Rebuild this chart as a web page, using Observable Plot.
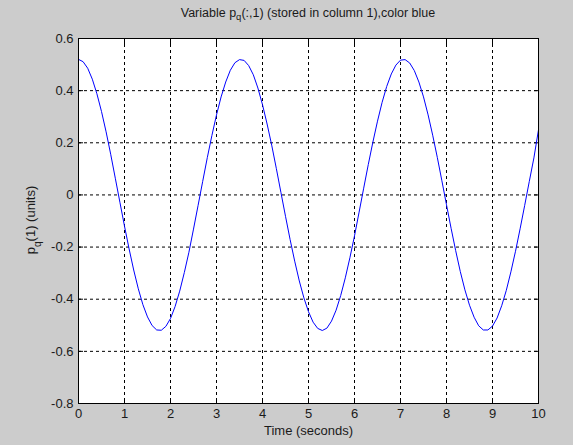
<!DOCTYPE html>
<html><head><meta charset="utf-8">
<script src="https://cdn.jsdelivr.net/npm/d3@7"></script>
<script src="https://cdn.jsdelivr.net/npm/@observablehq/plot@0.6"></script>
<style>
body{margin:0;background:#cccccc;font-family:"Liberation Sans",Arial,sans-serif;}
#wrap{position:relative;width:573px;height:445px;overflow:hidden;}
#title{position:absolute;left:0;width:616px;top:6px;text-align:center;font-size:12.5px;color:#1a1a1a;}
#title sub{font-size:9.5px;vertical-align:-3px;line-height:0;}
#chart{position:absolute;left:0;top:30px;}
</style></head>
<body><div id="wrap"><div id="title">Variable p<sub>q</sub>(:,1) (stored in column 1),color blue</div><div id="chart"></div></div>
<script>
const time = [0,0.1,0.2,0.3,0.4,0.5,0.6,0.7,0.8,0.9,1.0,1.1,1.2,1.3,1.4,1.5,1.6,1.7,1.8,1.9,2.0,2.1,2.2,2.3,2.4,2.5,2.6,2.7,2.8,2.9,3.0,3.1,3.2,3.3,3.4,3.5,3.6,3.7,3.8,3.9,4.0,4.1,4.2,4.3,4.4,4.5,4.6,4.7,4.8,4.9,5.0,5.1,5.2,5.3,5.4,5.5,5.6,5.7,5.8,5.9,6.0,6.1,6.2,6.3,6.4,6.5,6.6,6.7,6.8,6.9,7.0,7.1,7.2,7.3,7.4,7.5,7.6,7.7,7.8,7.9,8.0,8.1,8.2,8.3,8.4,8.5,8.6,8.7,8.8,8.9,9.0,9.1,9.2,9.3,9.4,9.5,9.6,9.7,9.8,9.9,10.0];
const pq1 = [0.52,0.511,0.486,0.444,0.388,0.320,0.242,0.156,0.064,-0.028,-0.120,-0.207,-0.288,-0.360,-0.421,-0.468,-0.501,-0.518,-0.519,-0.504,-0.474,-0.428,-0.369,-0.298,-0.220,-0.131,-0.040,0.052,0.143,0.228,0.307,0.376,0.433,0.478,0.507,0.519,0.516,0.496,0.461,0.410,0.346,0.272,0.191,0.102,0.010,-0.082,-0.171,-0.254,-0.330,-0.395,-0.448,-0.488,-0.512,-0.520,-0.511,-0.484,-0.442,-0.386,-0.318,-0.241,-0.157,-0.066,0.026,0.117,0.203,0.283,0.355,0.416,0.464,0.498,0.517,0.519,0.506,0.477,0.433,0.376,0.307,0.229,0.144,0.054,-0.038,-0.128,-0.214,-0.294,-0.364,-0.423,-0.469,-0.502,-0.518,-0.518,-0.503,-0.472,-0.425,-0.366,-0.295,-0.216,-0.130,-0.040,0.052,0.142,0.250];
const xTicks = [0,1,2,3,4,5,6,7,8,9,10];
const yTicks = [-0.8,-0.6,-0.4,-0.2,0,0.2,0.4,0.6];
const xLabel = "Time (seconds)";

const data = time.map((t,i)=>({t, v: pq1[i]}));
const fmt = d => String(+d.toFixed(1));
const inTick = {tickSize: -5, text: null, label: null, stroke: "black", strokeOpacity: 1};

const plot = Plot.plot({
  width: 573, height: 415,
  marginLeft: 78, marginRight: 35, marginTop: 8, marginBottom: 42,
  style: {background: "transparent", fontFamily: "Liberation Sans, Arial, sans-serif", fontSize: "13px", color: "#1a1a1a"},
  x: {domain: [0,10]},
  y: {domain: [-0.8,0.6]},
  marks: [
    Plot.frame({fill: "white"}),
    Plot.gridX(xTicks.slice(1,-1), {stroke: "black", strokeOpacity: 1, strokeDasharray: "3,3"}),
    Plot.gridY(yTicks.slice(1,-1), {stroke: "black", strokeOpacity: 1, strokeDasharray: "3,3"}),
    Plot.axisX(xTicks, {anchor: "bottom", ...inTick}),
    Plot.axisX(xTicks, {anchor: "top", ...inTick}),
    Plot.axisY(yTicks, {anchor: "left", ...inTick}),
    Plot.axisY(yTicks, {anchor: "right", ...inTick}),
    Plot.line(data, {x: "t", y: "v", stroke: "#0000ff", strokeWidth: 1}),
    Plot.frame({stroke: "black", strokeWidth: 1}),
    Plot.axisX(xTicks, {anchor: "bottom", tickSize: 0, tickPadding: 5, tickFormat: fmt, label: null, fontSize: 13}),
    Plot.axisY(yTicks, {anchor: "left", tickSize: 0, tickPadding: 5, tickFormat: fmt, label: null, fontSize: 13}),
    Plot.text([xLabel], {frameAnchor: "bottom", dy: 31, fontSize: 13})
  ]
});
document.getElementById("chart").appendChild(plot);
// y label with subscript
const svg = d3.select(plot);
const yl = svg.append("text")
  .attr("transform", "translate(35,190) rotate(-90)")
  .attr("text-anchor", "middle")
  .attr("font-size", 13)
  .attr("fill", "#1a1a1a");
yl.append("tspan").text("p");
yl.append("tspan").attr("baseline-shift", "sub").attr("font-size", 10).text("q");
yl.append("tspan").text("(1) (units)");
</script></body></html>
